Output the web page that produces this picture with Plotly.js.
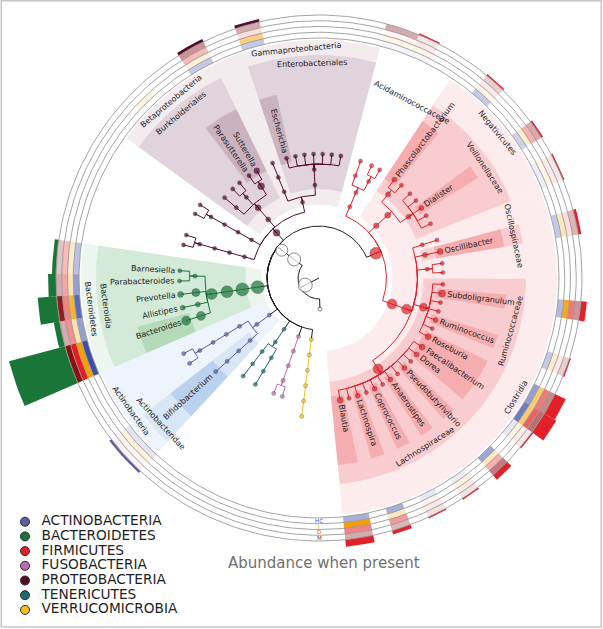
<!DOCTYPE html>
<html><head><meta charset="utf-8">
<script src="https://cdn.plot.ly/plotly-3.0.1.min.js"></script>
<style>body{margin:0;background:#fff}#chart{width:603px;height:629px}</style>
</head><body><div id="chart"></div>
<script>
// ================= DATA =================
const phylumNames = ["Actinobacteria","Bacteroidetes","Firmicutes","Fusobacteria","Proteobacteria","Tenericutes","Verrucomicrobia"];
const legendLabels = ["ACTINOBACTERIA","BACTEROIDETES","FIRMICUTES","FUSOBACTERIA","PROTEOBACTERIA","TENERICUTES","VERRUCOMICROBIA"];
const ringNames = ["HC","I","D","M"];
const ringTitle = "Abundance when present";

// taxonomy: one lineage per leaf, in circular order
const P = "Bacteria|Bacteria_2|Bacteria_3|";
const leafPaths = [
 P+"Firmicutes|Clostridia|Clostridiales|Lachnospiraceae|Blautia",
 P+"Firmicutes|Clostridia|Clostridiales|Lachnospiraceae|Lach_2",
 P+"Firmicutes|Clostridia|Clostridiales|Lachnospiraceae|Lachnospira",
 P+"Firmicutes|Clostridia|Clostridiales|Lachnospiraceae|Lach_4",
 P+"Firmicutes|Clostridia|Clostridiales|Lachnospiraceae|Coprococcus",
 P+"Firmicutes|Clostridia|Clostridiales|Lachnospiraceae|Lach_6",
 P+"Firmicutes|Clostridia|Clostridiales|Lachnospiraceae|Anaerostipes",
 P+"Firmicutes|Clostridia|Clostridiales|Lachnospiraceae|Lach_8",
 P+"Firmicutes|Clostridia|Clostridiales|Lachnospiraceae|Pseudobutyrivibrio",
 P+"Firmicutes|Clostridia|Clostridiales|Lachnospiraceae|Lach_10",
 P+"Firmicutes|Clostridia|Clostridiales|Lachnospiraceae|Dorea",
 P+"Firmicutes|Clostridia|Clostridiales|Lachnospiraceae|Faecalibacterium",
 P+"Firmicutes|Clostridia|Clostridiales|Ruminococcaceae|Roseburia",
 P+"Firmicutes|Clostridia|Clostridiales|Ruminococcaceae|Rum_2",
 P+"Firmicutes|Clostridia|Clostridiales|Ruminococcaceae|Ruminococcus",
 P+"Firmicutes|Clostridia|Clostridiales|Ruminococcaceae|Rum_4",
 P+"Firmicutes|Clostridia|Clostridiales|Ruminococcaceae|Rum_5",
 P+"Firmicutes|Clostridia|Clostridiales|Ruminococcaceae|Subdoligranulum",
 P+"Firmicutes|Clostridia|Clostridiales|Ruminococcaceae|Rum_7",
 P+"Firmicutes|Clostridia|Clostridiales|Clos_f3|Clos3_a",
 P+"Firmicutes|Clostridia|Clostridiales|Clos_f3|Clos3_b",
 P+"Firmicutes|Clostridia|Clostridiales|Oscillospiraceae|Oscillibacter",
 P+"Firmicutes|Clostridia|Clostridiales|Clos_f5|Clos5_a",
 P+"Firmicutes|Negativicutes|Selenomonadales|Veillonellaceae|Veil_1",
 P+"Firmicutes|Negativicutes|Selenomonadales|Veillonellaceae|Veil_2",
 P+"Firmicutes|Negativicutes|Selenomonadales|Veillonellaceae|Dialister",
 P+"Firmicutes|Negativicutes|Selenomonadales|Veillonellaceae|Veil_4",
 P+"Firmicutes|Negativicutes|Selenomonadales|Veillonellaceae|Veil_5",
 P+"Firmicutes|Negativicutes|Selenomonadales|Acidaminococcaceae|Acid_1",
 P+"Firmicutes|Negativicutes|Selenomonadales|Acidaminococcaceae|Phascolarctobacterium",
 P+"Firmicutes|Bacilli|Bac_o|Bac_f1|Bac_1",
 P+"Firmicutes|Bacilli|Bac_o|Bac_f1|Bac_2",
 P+"Firmicutes|Bacilli|Bac_o|Bac_f2|Bac_3",
 P+"Proteobacteria|Gammaproteobacteria|Enterobacteriales|Enterobacteriaceae|Ent_1",
 P+"Proteobacteria|Gammaproteobacteria|Enterobacteriales|Enterobacteriaceae|Ent_2",
 P+"Proteobacteria|Gammaproteobacteria|Enterobacteriales|Enterobacteriaceae|Ent_3",
 P+"Proteobacteria|Gammaproteobacteria|Enterobacteriales|Enterobacteriaceae|Ent_4",
 P+"Proteobacteria|Gammaproteobacteria|Enterobacteriales|Enterobacteriaceae|Ent_5",
 P+"Proteobacteria|Gammaproteobacteria|Enterobacteriales|Enterobacteriaceae|Ent_6",
 P+"Proteobacteria|Gammaproteobacteria|Enterobacteriales|Enterobacteriaceae|Escherichia",
 P+"Proteobacteria|Gammaproteobacteria|Gam_o2|Gam_f2|Gam_g2",
 P+"Proteobacteria|Betaproteobacteria|Burkholderiales|Sutterellaceae|Sutterella",
 P+"Proteobacteria|Betaproteobacteria|Burkholderiales|Sutterellaceae|Parasutterella",
 P+"Proteobacteria|Betaproteobacteria|Burkholderiales|Beta_f2|Beta_g2a",
 P+"Proteobacteria|Betaproteobacteria|Burkholderiales|Beta_f2|Beta_g2b",
 P+"Proteobacteria|Betaproteobacteria|Burkholderiales|Beta_f3|Beta_g3",
 P+"Proteobacteria|Prot_c3|Prot_o3|Prot_f3|Prot_g3|Prot_s3a",
 P+"Proteobacteria|Prot_c3|Prot_o3|Prot_f3|Prot_g3|Prot_s3b",
 P+"Proteobacteria|Prot_c4|Prot_o4|Prot_f4|Prot_g4|Prot_s4a",
 P+"Proteobacteria|Prot_c4|Prot_o4|Prot_f4|Prot_g4|Prot_s4b",
 P+"Bacteroidetes|Bacteroidia|Bacteroidales|Bact_x|Porphyromonadaceae|Barnesiella",
 P+"Bacteroidetes|Bacteroidia|Bacteroidales|Bact_x|Porphyromonadaceae|Parabacteroides",
 P+"Bacteroidetes|Bacteroidia|Bacteroidales|Bact_x|Prevotellaceae|Prevotella",
 P+"Bacteroidetes|Bacteroidia|Bacteroidales|Bact_x|Rikenellaceae|Allistipes",
 P+"Bacteroidetes|Bacteroidia|Bacteroidales|Bact_x|Bacteroidaceae|Bacteroides",
 P+"Actinobacteria|Actinobacteria_c|Act_o1|Act_f1|Act_g1|Act_x1|Act_s1",
 P+"Actinobacteria|Actinobacteria_c|Act_o1|Act_f1|Act_g1|Act_x1|Act_s2",
 P+"Actinobacteria|Actinobacteria_c|Actinobacteridae|Bifidobacteriales|Bifidobacteriaceae|Bifidobacterium",
 P+"Tenericutes|Mollicutes|Ten_o1|Ten_f1|Ten_g1",
 P+"Tenericutes|Mollicutes|Ten_o2|Ten_f2|Ten_g2",
 P+"Fusobacteria|Fusobacteriia|Fusobacteriales|Fusobacteriaceae|Fuso_1",
 P+"Fusobacteria|Fusobacteriia|Fusobacteriales|Fusobacteriaceae|Fuso_2",
 P+"Verrucomicrobia|Verrucomicrobiae|Verrucomicrobiales|Verrucomicrobiaceae|Akkermansia|Akk_s",
 "Bacteria|Unclassified"
];

// labelled clades (shaded background + name)
const labelClades = ["Clostridia","Negativicutes","Gammaproteobacteria","Betaproteobacteria","Bacteroidetes","Actinobacteria",
 "Enterobacteriales","Burkholderiales","Bacteroidia","Actinobacteridae",
 "Lachnospiraceae","Ruminococcaceae","Veillonellaceae","Acidaminococcaceae","Oscillospiraceae",
 "Blautia","Lachnospira","Coprococcus","Anaerostipes","Pseudobutyrivibrio","Dorea","Faecalibacterium","Roseburia",
 "Ruminococcus","Subdoligranulum","Oscillibacter","Dialister","Phascolarctobacterium","Escherichia","Sutterella",
 "Parasutterella","Barnesiella","Parabacteroides","Prevotella","Allistipes","Bacteroides","Bifidobacterium"];
const labelTier = [1,1,1,1,1,1, 2,2,2,2, 3,3,3,3,3, 4,4,4,4,4,4,4,4, 4,4,4,4,4,4,4, 4,4,4,4,4,4,4];

// abundance rings (alpha = abundance when present) and outer bar heights
const cellClades = ["Blautia","Lachnospira","Coprococcus","Anaerostipes","Pseudobutyrivibrio","Dorea","Faecalibacterium","Roseburia",
 "Ruminococcus","Subdoligranulum","Oscillibacter","Veil_1","Dialister","Acid_1","Bac_2","Bac_3","Escherichia","Sutterella","Beta_g2b",
 "Barnesiella","Parabacteroides","Prevotella","Allistipes","Bacteroides","Bifidobacterium"];
const hcAbund = [0.45,0.45,0.12,0.10,0.50,0.12,0.75,0.55, 0.30,0.40,0.30,0.10,0.25,0.30,0.05,0.05,0.30,0.30,0.00, 0.35,0.55,0.85,0.55,1.00,0.15];
const iAbund  = [1.00,0.25,0.10,0.15,0.25,0.12,0.55,0.55, 0.20,0.90,0.25,0.10,0.20,0.10,0.10,0.10,0.50,0.15,0.12, 0.20,0.30,0.80,0.30,1.00,0.15];
const dAbund  = [0.55,0.45,0.10,0.10,0.35,0.08,0.70,0.60, 0.10,0.60,0.15,0.10,0.35,0.10,0.10,0.05,0.15,0.30,0.00, 0.30,0.40,0.55,0.50,1.00,0.05];
const mAbund  = [0.35,0.30,0.12,0.12,0.55,0.10,0.60,0.50, 0.20,0.45,0.30,0.10,0.35,0.20,0.10,0.35,0.35,0.45,0.00, 0.25,0.35,0.95,0.35,1.00,0.05];
const barHeight = [7,4,1.5,1.5,6,1.5,14,12, 1.5,6,3,1.5,2,1.5,1.5,0,3,3,0, 4,8,19,6,58,2.5];

// ================= STYLE / LAYOUT =================
const phylumColors = {Actinobacteria:"#5b5fa6",Bacteroidetes:"#197638",Firmicutes:"#e3202a",Fusobacteria:"#b96cb0",
  Proteobacteria:"#560a2a",Tenericutes:"#1b6a68",Verrucomicrobia:"#f3c21a"};
const shadeRGB = {Firmicutes:"227,36,43",Proteobacteria:"105,35,75",Bacteroidetes:"40,150,60",Actinobacteria:"60,130,210"};
const tierAlpha = {1:0.085,2:0.12,3:0.15,4:0.19};
const tierOuter = {1:238,2:223,3:207,4:188};
const tierLabelR = {1:230,2:215,3:199};
const labelShift = {Acidaminococcaceae:11};
const noBox = {Barnesiella:1,Parabacteroides:1,Prevotella:1,Allistipes:1};
const ringColors = ["60,80,170","245,160,0","228,30,30","140,15,20"];
const bigNodes = {Bacteria:14,Bacteria_2:13,Bacteria_3:12,Unclassified:4,
  Firmicutes:12,Clostridia:10,Clostridiales:10,Lachnospiraceae:10,Ruminococcaceae:8,Subdoligranulum:7,Roseburia:6,Faecalibacterium:6,
  Blautia:6,Oscillibacter:6,Oscillospiraceae:5,Ruminococcus:5,Dorea:5,Lachnospira:5,Coprococcus:5,Pseudobutyrivibrio:5,Anaerostipes:5,
  Negativicutes:5.5,Selenomonadales:6,Veillonellaceae:5,Dialister:5,Acidaminococcaceae:5,Phascolarctobacterium:5,
  Bacteroidetes:13,Bacteroidia:13,Bacteroidales:12,Bact_x:11,Bacteroidaceae:9,Bacteroides:9,Prevotellaceae:8,Prevotella:6,Rikenellaceae:5,Allistipes:5,
  Proteobacteria:7,Burkholderiales:6,Sutterellaceae:7,Sutterella:6,Betaproteobacteria:5};
const STEP=15.5, GAP_A=4.2, GAP_B=1.3, START=-80.2, BR=0.35;
const R0=240, RW=5.75;
const FONT="DejaVu Sans";

// ================= TREE LAYOUT =================
const D2R=Math.PI/180;
const pt=(r,t)=>[r*Math.cos(t*D2R), r*Math.sin(t*D2R)];
const nodesByKey={}, byName={};
const root={key:"",name:"root",depth:0,children:[],parts:[]};
const leaves=[];
leafPaths.forEach(path=>{
  const parts=path.split("|"); let par=root;
  parts.forEach((nm,i)=>{
    const key=parts.slice(0,i+1).join("|");
    let n=nodesByKey[key];
    if(!n){n={key,name:nm,depth:i+1,children:[],parent:par,parts:parts.slice(0,i+1)};nodesByKey[key]=n;byName[nm]=n;par.children.push(n);}
    par=n;
  });
  leaves.push(par);
});
function lca(a,b){let d=0;while(d<a.parts.length&&d<b.parts.length&&a.parts[d]===b.parts[d])d++;return d;}
function gap(a,b){const L=lca(a,b);return GAP_A+GAP_B*((a.depth-1-L)+(b.depth-1-L))/2;}
const gaps=[];let tot=0;
leaves.forEach((lf,i)=>{const g=gap(leaves[(i-1+leaves.length)%leaves.length],lf);gaps.push(g);tot+=g;});
const sc=360/tot; let ang=START;
leaves.forEach((lf,i)=>{if(i>0)ang+=gaps[i]*sc;lf.theta=ang;lf.gPrev=gaps[i]*sc;lf.gNext=gaps[(i+1)%leaves.length]*sc;});
function setAng(n){if(!n.children.length)return n.theta;n.children.forEach(setAng);n.theta=(n.children[0].theta+n.children[n.children.length-1].theta)/2;return n.theta;}
root.children.forEach(setAng);
const allNodes=Object.values(nodesByKey);
allNodes.forEach(n=>{n.r=n.depth*STEP;n.phylum=n.depth>=4?n.parts[3]:null;});
function firstLeaf(n){while(n.children.length)n=n.children[0];return n;}
function lastLeaf(n){while(n.children.length)n=n.children[n.children.length-1];return n;}
function span(n){const a=firstLeaf(n),b=lastLeaf(n);return [a.theta-a.gPrev/2,b.theta+b.gNext/2];}

function arc(r,t1,t2){const k=Math.max(1,Math.ceil(Math.abs(t2-t1)/1.5));const o=[];for(let i=0;i<=k;i++)o.push(pt(r,t1+(t2-t1)*i/k));return o;}
function sectorXY(r1,r2,t1,t2){const a=arc(r2,t1,t2),b=arc(r1,t2,t1);const all=a.concat(b);all.push(a[0]);return {x:all.map(p=>p[0]),y:all.map(p=>p[1])};}

const traces=[]; const annotations=[]; const shapes=[];
const ctx=document.createElement("canvas").getContext("2d");
function tw(s,size){ctx.font=size+"px '"+FONT+"'";return ctx.measureText(s).width;}

// --- shaded sectors ---
labelClades.forEach((nm,i)=>{
  const n=byName[nm]; if(!n||noBox[nm])return; const tier=labelTier[i];
  const [t1,t2]=span(n);
  const rin = tier===4 ? n.r-5 : n.r-4;
  const s=sectorXY(rin,tierOuter[tier],t1,t2);
  traces.push({type:"scatter",mode:"lines",x:s.x,y:s.y,fill:"toself",fillcolor:"rgba("+shadeRGB[n.phylum]+","+tierAlpha[tier]+")",line:{width:0},hoverinfo:"skip",showlegend:false});
});

// --- ring cells and bars ---
const ringVals=[hcAbund,iAbund,dAbund,mAbund];
cellClades.forEach((nm,i)=>{
  const n=byName[nm]; if(!n)return; const [t1,t2]=span(n);
  ringVals.forEach((arr,k)=>{
    if(arr[i]<=0)return;
    const s=sectorXY(R0+k*RW,R0+(k+1)*RW,t1,t2);
    traces.push({type:"scatter",mode:"lines",x:s.x,y:s.y,fill:"toself",fillcolor:"rgba("+ringColors[k]+","+arr[i]+")",line:{width:0},hoverinfo:"skip",showlegend:false});
  });
  if(barHeight[i]>0){
    const s=sectorXY(R0+4*RW,R0+4*RW+barHeight[i],t1,t2);
    traces.push({type:"scatter",mode:"lines",x:s.x,y:s.y,fill:"toself",fillcolor:phylumColors[n.phylum],line:{width:0},hoverinfo:"skip",showlegend:false});
  }
});
// ring circles
for(let k=0;k<=4;k++){const a=arc(R0+k*RW,0,360);traces.push({type:"scatter",mode:"lines",x:a.map(p=>p[0]),y:a.map(p=>p[1]),line:{color:"#9a9a9a",width:0.9},hoverinfo:"skip",showlegend:false});}

// --- branches ---
const branchGroups={};
allNodes.forEach(n=>{
  const p=n.parent; let pts;
  if(p===root){pts=[[0,0],pt(n.r,n.theta)];}
  else{const rb=p.r+BR*STEP;pts=[pt(p.r,p.theta)].concat(arc(rb,p.theta,n.theta));pts.push(pt(n.r,n.theta));}
  const col=n.depth>=5?phylumColors[n.phylum]:"#1e1e1e";
  if(!branchGroups[col])branchGroups[col]={x:[],y:[]};
  pts.forEach(q=>{branchGroups[col].x.push(q[0]);branchGroups[col].y.push(q[1]);});
  branchGroups[col].x.push(null);branchGroups[col].y.push(null);
});
Object.keys(branchGroups).forEach(c=>traces.push({type:"scatter",mode:"lines",x:branchGroups[c].x,y:branchGroups[c].y,line:{color:c,width:1},hoverinfo:"skip",showlegend:false}));

// --- nodes ---
const nx=[],ny=[],ns=[],nc=[],nl=[];
allNodes.slice().sort((a,b)=>a.depth-b.depth).forEach(n=>{
  const q=pt(n.r,n.theta);nx.push(q[0]);ny.push(q[1]);
  ns.push(bigNodes[n.name]||4.2);
  nc.push(n.phylum?phylumColors[n.phylum]:"#ffffff");
  nl.push(n.phylum?"rgba(0,0,0,0.45)":"#111");
});
traces.push({type:"scatter",mode:"markers",x:nx,y:ny,marker:{size:ns,color:nc,line:{color:nl,width:0.7}},hoverinfo:"skip",showlegend:false});

// --- clade labels ---
function normA(a){while(a>180)a-=360;while(a<=-180)a+=360;return a;}
labelClades.forEach((nm,i)=>{
  const n=byName[nm]; if(!n)return; const tier=labelTier[i];
  if(tier<4){
    const [t1,t2]=span(n); const th=(t1+t2)/2+(labelShift[nm]||0);
    let ta=normA(90-th); if(ta>90)ta-=180; if(ta<=-90)ta+=180;
    const q=pt(tierLabelR[tier],th);
    annotations.push({x:q[0],y:q[1],text:nm,textangle:ta,showarrow:false,xanchor:"center",yanchor:"middle",font:{family:FONT,size:8,color:"#1a1a1a"}});
  }else{
    const th=n.theta; const w=tw(nm,8);
    const rc=n.r+5+w/2; const q=pt(rc,th);
    let ta = Math.cos(th*D2R)>=0 ? -th : 180-th; ta=normA(ta);
    annotations.push({x:q[0],y:q[1],text:nm,textangle:ta,showarrow:false,xanchor:"center",yanchor:"middle",font:{family:FONT,size:8,color:"#1a1a1a"}});
  }
});

// --- ring names ---
const ringLabelColors=["#3f4fa5","#f0a020","#e0502a","#a01e28"];
ringNames.forEach((s,k)=>{const q=pt(R0+(k+0.5)*RW,-90);annotations.push({x:q[0],y:q[1],text:s,showarrow:false,xanchor:"center",yanchor:"middle",borderpad:0,font:{family:FONT,size:5.6,color:ringLabelColors[k]}});});
annotations.push({x:5,y:-285,text:ringTitle,showarrow:false,xanchor:"center",yanchor:"middle",font:{family:FONT,size:15,color:"#707070"}});

// --- legend (markers + text traces) ---
const lgX=[],lgY=[],lgC=[];
legendLabels.forEach((s,i)=>{lgX.push(25-319);lgY.push(278-(521.7+i*14.7));lgC.push(phylumColors[phylumNames[i]]);});
traces.push({type:"scatter",mode:"markers",x:lgX,y:lgY,marker:{size:9,color:lgC,line:{color:"#2a2a2a",width:1}},hoverinfo:"skip",showlegend:false});
traces.push({type:"scatter",mode:"text",x:lgX.map(v=>v+16.5),y:lgY,text:legendLabels,textposition:"middle right",
  textfont:{family:FONT,size:13.7,color:"#1e1e1e"},hoverinfo:"skip",showlegend:false,cliponaxis:false});
shapes.push({type:"rect",xref:"paper",yref:"paper",x0:0.002,x1:0.997,y0:0.003,y1:0.999,line:{color:"#c8c8c8",width:1.5},fillcolor:"rgba(0,0,0,0)"});

const layout={width:603,height:629,margin:{l:0,r:0,t:0,b:0},paper_bgcolor:"#fff",plot_bgcolor:"#fff",
  xaxis:{range:[-319,284],visible:false,fixedrange:true},
  yaxis:{range:[-351,278],visible:false,fixedrange:true},
  showlegend:false,annotations,shapes};
Plotly.newPlot("chart",traces,layout,{displayModeBar:false,staticPlot:true});
</script></body></html>
